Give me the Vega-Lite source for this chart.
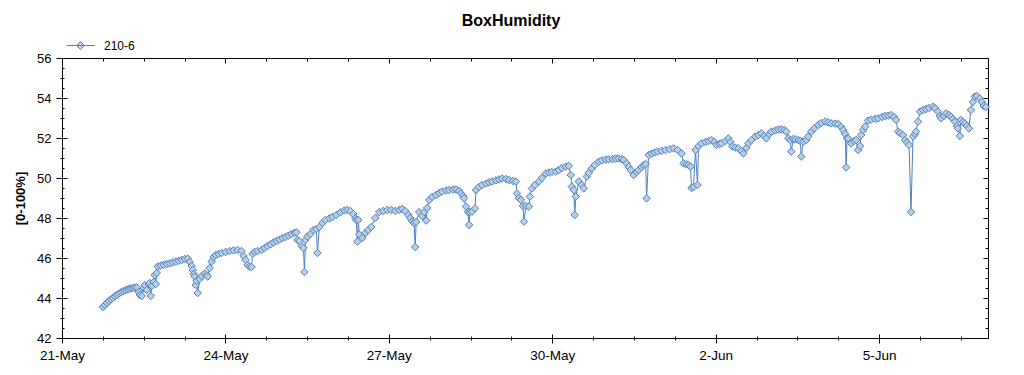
{
"$schema": "https://vega.github.io/schema/vega-lite/v6.json",
"width": 926, "height": 280,
"autosize": "none",
"padding": {"left": 62, "top": 58, "right": 36, "bottom": 37},
"background": "white",
"title": {"text": "BoxHumidity", "anchor": "middle", "frame": "group", "baseline": "alphabetic", "offset": -11, "dx": -14, "font": "Liberation Sans", "fontSize": 16, "fontWeight": "bold", "color": "#000000"},
"config": {"view": {"stroke": null}, "axis": {"domainColor": "#000000", "tickColor": "#000000", "labelColor": "#000000", "titleColor": "#000000", "labelFont": "Liberation Sans", "titleFont": "Liberation Sans", "grid": false, "domainWidth": 1, "tickWidth": 1}},
"datasets": {"rh": [
{"t":"2023-05-21T18:01","h":43.55},{"t":"2023-05-21T18:54","h":43.65},{"t":"2023-05-21T19:47","h":43.75},{"t":"2023-05-21T20:40","h":43.85},{"t":"2023-05-21T21:32","h":43.93},{"t":"2023-05-21T22:25","h":44.0},{"t":"2023-05-21T23:18","h":44.08},{"t":"2023-05-22T00:11","h":44.15},{"t":"2023-05-22T01:03","h":44.22},{"t":"2023-05-22T01:56","h":44.28},{"t":"2023-05-22T02:49","h":44.33},{"t":"2023-05-22T03:42","h":44.38},{"t":"2023-05-22T04:34","h":44.42},{"t":"2023-05-22T05:27","h":44.45},{"t":"2023-05-22T06:20","h":44.48},{"t":"2023-05-22T07:13","h":44.5},{"t":"2023-05-22T08:05","h":44.52},{"t":"2023-05-22T08:58","h":44.53},{"t":"2023-05-22T09:51","h":44.3},{"t":"2023-05-22T10:17","h":44.15},{"t":"2023-05-22T11:10","h":44.1},{"t":"2023-05-22T12:03","h":44.5},{"t":"2023-05-22T12:29","h":44.65},{"t":"2023-05-22T13:22","h":44.4},{"t":"2023-05-22T14:15","h":44.7},{"t":"2023-05-22T14:41","h":44.75},{"t":"2023-05-22T15:07","h":44.1},{"t":"2023-05-22T15:34","h":44.6},{"t":"2023-05-22T16:26","h":44.8},{"t":"2023-05-22T16:53","h":45.15},{"t":"2023-05-22T17:19","h":44.7},{"t":"2023-05-22T17:46","h":45.25},{"t":"2023-05-22T18:12","h":45.57},{"t":"2023-05-22T19:31","h":45.62},{"t":"2023-05-22T20:50","h":45.66},{"t":"2023-05-22T22:09","h":45.7},{"t":"2023-05-22T23:28","h":45.73},
{"t":"2023-05-23T00:47","h":45.78},{"t":"2023-05-23T02:07","h":45.82},{"t":"2023-05-23T03:26","h":45.86},{"t":"2023-05-23T04:45","h":45.9},{"t":"2023-05-23T06:04","h":45.95},{"t":"2023-05-23T07:23","h":45.97},{"t":"2023-05-23T08:16","h":45.8},{"t":"2023-05-23T09:09","h":45.6},{"t":"2023-05-23T09:35","h":45.4},{"t":"2023-05-23T10:01","h":45.2},{"t":"2023-05-23T10:28","h":45.07},{"t":"2023-05-23T10:54","h":44.65},{"t":"2023-05-23T11:20","h":44.85},{"t":"2023-05-23T11:47","h":44.25},{"t":"2023-05-23T12:40","h":44.95},{"t":"2023-05-23T13:32","h":45.1},{"t":"2023-05-23T14:51","h":45.23},{"t":"2023-05-23T15:44","h":45.15},{"t":"2023-05-23T16:11","h":45.07},{"t":"2023-05-23T17:03","h":45.5},{"t":"2023-05-23T17:56","h":45.82},{"t":"2023-05-23T18:49","h":46.05},{"t":"2023-05-23T19:42","h":46.15},{"t":"2023-05-23T21:01","h":46.2},{"t":"2023-05-23T22:20","h":46.25},
{"t":"2023-05-24T00:05","h":46.3},{"t":"2023-05-24T01:51","h":46.35},{"t":"2023-05-24T03:36","h":46.38},{"t":"2023-05-24T05:22","h":46.4},{"t":"2023-05-24T07:07","h":46.35},{"t":"2023-05-24T08:00","h":46.1},{"t":"2023-05-24T08:53","h":45.9},{"t":"2023-05-24T09:46","h":45.65},{"t":"2023-05-24T10:38","h":45.57},{"t":"2023-05-24T11:31","h":45.55},{"t":"2023-05-24T11:57","h":46.2},{"t":"2023-05-24T12:50","h":46.3},{"t":"2023-05-24T14:09","h":46.35},{"t":"2023-05-24T15:55","h":46.4},{"t":"2023-05-24T17:14","h":46.5},{"t":"2023-05-24T18:33","h":46.6},{"t":"2023-05-24T19:52","h":46.68},{"t":"2023-05-24T21:11","h":46.78},{"t":"2023-05-24T22:30","h":46.85},{"t":"2023-05-24T23:50","h":46.92},
{"t":"2023-05-25T01:09","h":47.0},{"t":"2023-05-25T02:28","h":47.05},{"t":"2023-05-25T03:47","h":47.12},{"t":"2023-05-25T05:06","h":47.2},{"t":"2023-05-25T06:25","h":47.25},{"t":"2023-05-25T07:18","h":47.28},{"t":"2023-05-25T07:44","h":46.9},{"t":"2023-05-25T08:37","h":46.85},{"t":"2023-05-25T09:30","h":46.6},{"t":"2023-05-25T10:23","h":46.5},{"t":"2023-05-25T10:49","h":45.3},{"t":"2023-05-25T11:15","h":46.9},{"t":"2023-05-25T12:08","h":47.07},{"t":"2023-05-25T13:27","h":47.2},{"t":"2023-05-25T14:46","h":47.4},{"t":"2023-05-25T16:05","h":47.45},{"t":"2023-05-25T16:32","h":46.25},{"t":"2023-05-25T17:25","h":47.55},{"t":"2023-05-25T18:44","h":47.75},{"t":"2023-05-25T20:03","h":47.9},{"t":"2023-05-25T21:48","h":47.98},{"t":"2023-05-25T23:07","h":48.05},
{"t":"2023-05-26T00:53","h":48.15},{"t":"2023-05-26T02:38","h":48.28},{"t":"2023-05-26T04:24","h":48.38},{"t":"2023-05-26T05:43","h":48.4},{"t":"2023-05-26T07:02","h":48.35},{"t":"2023-05-26T08:21","h":48.2},{"t":"2023-05-26T09:14","h":48.0},{"t":"2023-05-26T09:40","h":47.9},{"t":"2023-05-26T10:07","h":46.82},{"t":"2023-05-26T10:33","h":47.9},{"t":"2023-05-26T10:59","h":47.17},{"t":"2023-05-26T12:19","h":47.0},{"t":"2023-05-26T13:38","h":47.25},{"t":"2023-05-26T14:57","h":47.4},{"t":"2023-05-26T16:16","h":47.55},{"t":"2023-05-26T18:01","h":48.0},{"t":"2023-05-26T19:47","h":48.3},{"t":"2023-05-26T21:32","h":48.35},{"t":"2023-05-26T23:18","h":48.4},
{"t":"2023-05-27T01:03","h":48.4},{"t":"2023-05-27T02:49","h":48.35},{"t":"2023-05-27T04:34","h":48.4},{"t":"2023-05-27T05:53","h":48.45},{"t":"2023-05-27T07:13","h":48.35},{"t":"2023-05-27T08:32","h":48.15},{"t":"2023-05-27T09:25","h":48.0},{"t":"2023-05-27T10:17","h":47.83},{"t":"2023-05-27T11:10","h":47.75},{"t":"2023-05-27T11:36","h":46.55},{"t":"2023-05-27T12:03","h":47.8},{"t":"2023-05-27T13:22","h":48.3},{"t":"2023-05-27T14:41","h":48.1},{"t":"2023-05-27T15:34","h":48.3},{"t":"2023-05-27T16:27","h":47.87},{"t":"2023-05-27T16:53","h":48.5},{"t":"2023-05-27T17:46","h":48.9},{"t":"2023-05-27T19:05","h":49.05},{"t":"2023-05-27T20:50","h":49.15},{"t":"2023-05-27T22:09","h":49.25},{"t":"2023-05-27T23:28","h":49.32},
{"t":"2023-05-28T01:14","h":49.38},{"t":"2023-05-28T02:33","h":49.4},{"t":"2023-05-28T04:19","h":49.42},{"t":"2023-05-28T05:38","h":49.43},{"t":"2023-05-28T06:57","h":49.35},{"t":"2023-05-28T07:50","h":49.23},{"t":"2023-05-28T08:42","h":49.1},{"t":"2023-05-28T09:09","h":48.98},{"t":"2023-05-28T10:01","h":48.57},{"t":"2023-05-28T10:54","h":48.3},{"t":"2023-05-28T11:21","h":47.65},{"t":"2023-05-28T11:47","h":48.3},{"t":"2023-05-28T12:40","h":48.32},{"t":"2023-05-28T13:59","h":48.48},{"t":"2023-05-28T14:25","h":49.4},{"t":"2023-05-28T15:44","h":49.55},{"t":"2023-05-28T17:03","h":49.65},{"t":"2023-05-28T18:49","h":49.72},{"t":"2023-05-28T20:08","h":49.78},{"t":"2023-05-28T21:27","h":49.82},{"t":"2023-05-28T23:13","h":49.88},
{"t":"2023-05-29T00:32","h":49.93},{"t":"2023-05-29T01:51","h":49.98},{"t":"2023-05-29T03:36","h":49.95},{"t":"2023-05-29T04:56","h":49.9},{"t":"2023-05-29T06:41","h":49.85},{"t":"2023-05-29T08:00","h":49.82},{"t":"2023-05-29T08:27","h":49.23},{"t":"2023-05-29T09:19","h":49.0},{"t":"2023-05-29T10:12","h":48.9},{"t":"2023-05-29T11:05","h":48.6},{"t":"2023-05-29T11:31","h":47.82},{"t":"2023-05-29T12:24","h":48.6},{"t":"2023-05-29T13:43","h":48.57},{"t":"2023-05-29T14:09","h":49.07},{"t":"2023-05-29T15:02","h":49.48},{"t":"2023-05-29T16:21","h":49.65},{"t":"2023-05-29T18:07","h":49.82},{"t":"2023-05-29T19:26","h":50.0},{"t":"2023-05-29T21:11","h":50.23},{"t":"2023-05-29T22:31","h":50.27},{"t":"2023-05-29T23:50","h":50.3},
{"t":"2023-05-30T01:35","h":50.32},{"t":"2023-05-30T02:54","h":50.4},{"t":"2023-05-30T04:13","h":50.5},{"t":"2023-05-30T05:59","h":50.57},{"t":"2023-05-30T07:18","h":50.6},{"t":"2023-05-30T08:11","h":50.15},{"t":"2023-05-30T08:37","h":49.57},{"t":"2023-05-30T09:30","h":49.4},{"t":"2023-05-30T09:56","h":48.15},{"t":"2023-05-30T10:23","h":49.07},{"t":"2023-05-30T11:42","h":49.82},{"t":"2023-05-30T13:01","h":49.65},{"t":"2023-05-30T13:54","h":49.48},{"t":"2023-05-30T15:13","h":50.07},{"t":"2023-05-30T16:05","h":50.25},{"t":"2023-05-30T17:25","h":50.48},{"t":"2023-05-30T18:44","h":50.65},{"t":"2023-05-30T20:29","h":50.82},{"t":"2023-05-30T21:48","h":50.88},{"t":"2023-05-30T23:34","h":50.92},
{"t":"2023-05-31T00:53","h":50.93},{"t":"2023-05-31T02:38","h":50.95},{"t":"2023-05-31T03:58","h":50.97},{"t":"2023-05-31T05:17","h":50.98},{"t":"2023-05-31T06:36","h":50.95},{"t":"2023-05-31T07:29","h":50.9},{"t":"2023-05-31T08:48","h":50.73},{"t":"2023-05-31T09:40","h":50.55},{"t":"2023-05-31T10:33","h":50.4},{"t":"2023-05-31T11:52","h":50.15},{"t":"2023-05-31T13:11","h":50.3},{"t":"2023-05-31T14:04","h":50.4},{"t":"2023-05-31T15:23","h":50.55},{"t":"2023-05-31T16:16","h":50.65},{"t":"2023-05-31T17:09","h":50.7},{"t":"2023-05-31T17:35","h":48.98},{"t":"2023-05-31T18:28","h":51.15},{"t":"2023-05-31T19:47","h":51.22},{"t":"2023-05-31T21:06","h":51.28},{"t":"2023-05-31T22:25","h":51.32},
{"t":"2023-06-01T00:11","h":51.36},{"t":"2023-06-01T01:56","h":51.4},{"t":"2023-06-01T03:42","h":51.44},{"t":"2023-06-01T05:27","h":51.48},{"t":"2023-06-01T07:13","h":51.4},{"t":"2023-06-01T08:58","h":51.23},{"t":"2023-06-01T09:51","h":50.73},{"t":"2023-06-01T11:10","h":50.68},{"t":"2023-06-01T12:03","h":50.65},{"t":"2023-06-01T12:56","h":50.57},{"t":"2023-06-01T13:22","h":49.5},{"t":"2023-06-01T14:15","h":49.55},{"t":"2023-06-01T15:07","h":51.4},{"t":"2023-06-01T16:00","h":49.65},{"t":"2023-06-01T16:27","h":51.6},{"t":"2023-06-01T17:46","h":51.73},{"t":"2023-06-01T19:31","h":51.8},{"t":"2023-06-01T20:50","h":51.85},{"t":"2023-06-01T22:09","h":51.9},{"t":"2023-06-01T23:29","h":51.8},
{"t":"2023-06-02T00:21","h":51.65},{"t":"2023-06-02T01:40","h":51.7},{"t":"2023-06-02T02:33","h":51.73},{"t":"2023-06-02T04:19","h":51.85},{"t":"2023-06-02T05:38","h":51.98},{"t":"2023-06-02T06:31","h":51.8},{"t":"2023-06-02T07:23","h":51.57},{"t":"2023-06-02T08:42","h":51.52},{"t":"2023-06-02T10:02","h":51.48},{"t":"2023-06-02T11:21","h":51.35},{"t":"2023-06-02T12:13","h":51.23},{"t":"2023-06-02T13:33","h":51.5},{"t":"2023-06-02T14:25","h":51.73},{"t":"2023-06-02T15:44","h":51.9},{"t":"2023-06-02T17:30","h":52.07},{"t":"2023-06-02T18:49","h":52.15},{"t":"2023-06-02T20:08","h":52.23},{"t":"2023-06-02T21:27","h":52.1},{"t":"2023-06-02T22:20","h":51.98},{"t":"2023-06-02T23:39","h":52.2},
{"t":"2023-06-03T00:32","h":52.32},{"t":"2023-06-03T02:17","h":52.38},{"t":"2023-06-03T03:37","h":52.42},{"t":"2023-06-03T04:56","h":52.43},{"t":"2023-06-03T06:15","h":52.4},{"t":"2023-06-03T07:08","h":52.32},{"t":"2023-06-03T08:00","h":51.98},{"t":"2023-06-03T08:53","h":51.9},{"t":"2023-06-03T09:19","h":51.32},{"t":"2023-06-03T10:12","h":51.95},{"t":"2023-06-03T11:05","h":51.93},{"t":"2023-06-03T12:24","h":51.9},{"t":"2023-06-03T13:17","h":51.85},{"t":"2023-06-03T13:43","h":51.07},{"t":"2023-06-03T14:36","h":51.82},{"t":"2023-06-03T15:55","h":51.9},{"t":"2023-06-03T16:48","h":52.07},{"t":"2023-06-03T18:07","h":52.32},{"t":"2023-06-03T19:26","h":52.48},{"t":"2023-06-03T21:12","h":52.65},{"t":"2023-06-03T22:31","h":52.75},
{"t":"2023-06-04T00:16","h":52.82},{"t":"2023-06-04T01:35","h":52.78},{"t":"2023-06-04T02:54","h":52.73},{"t":"2023-06-04T04:40","h":52.72},{"t":"2023-06-04T05:59","h":52.7},{"t":"2023-06-04T07:18","h":52.55},{"t":"2023-06-04T08:11","h":52.4},{"t":"2023-06-04T09:04","h":52.2},{"t":"2023-06-04T09:30","h":50.53},{"t":"2023-06-04T09:56","h":52.0},{"t":"2023-06-04T10:23","h":51.98},{"t":"2023-06-04T11:42","h":51.73},{"t":"2023-06-04T13:01","h":51.85},{"t":"2023-06-04T13:54","h":51.9},{"t":"2023-06-04T14:46","h":51.4},{"t":"2023-06-04T15:39","h":51.6},{"t":"2023-06-04T16:06","h":52.15},{"t":"2023-06-04T16:58","h":52.4},{"t":"2023-06-04T17:51","h":52.57},{"t":"2023-06-04T19:10","h":52.87},{"t":"2023-06-04T20:29","h":52.92},{"t":"2023-06-04T22:15","h":52.96},{"t":"2023-06-04T23:34","h":52.98},
{"t":"2023-06-05T01:19","h":53.05},{"t":"2023-06-05T02:39","h":53.1},{"t":"2023-06-05T03:58","h":53.12},{"t":"2023-06-05T05:17","h":53.15},{"t":"2023-06-05T06:36","h":53.05},{"t":"2023-06-05T07:29","h":52.9},{"t":"2023-06-05T08:21","h":52.32},{"t":"2023-06-05T09:14","h":52.25},{"t":"2023-06-05T10:33","h":52.15},{"t":"2023-06-05T11:26","h":51.9},{"t":"2023-06-05T12:19","h":51.77},{"t":"2023-06-05T13:12","h":51.65},{"t":"2023-06-05T14:04","h":48.3},{"t":"2023-06-05T14:57","h":52.07},{"t":"2023-06-05T15:50","h":52.2},{"t":"2023-06-05T16:16","h":52.32},{"t":"2023-06-05T17:09","h":52.82},{"t":"2023-06-05T18:02","h":53.32},{"t":"2023-06-05T19:21","h":53.4},{"t":"2023-06-05T20:40","h":53.45},{"t":"2023-06-05T21:59","h":53.5},{"t":"2023-06-05T23:45","h":53.57},
{"t":"2023-06-06T00:37","h":53.5},{"t":"2023-06-06T01:56","h":53.32},{"t":"2023-06-06T02:49","h":53.1},{"t":"2023-06-06T03:16","h":52.98},{"t":"2023-06-06T04:35","h":53.1},{"t":"2023-06-06T05:27","h":53.23},{"t":"2023-06-06T06:47","h":53.15},{"t":"2023-06-06T07:39","h":53.07},{"t":"2023-06-06T08:32","h":52.95},{"t":"2023-06-06T09:25","h":52.82},{"t":"2023-06-06T10:17","h":52.6},{"t":"2023-06-06T10:44","h":52.48},{"t":"2023-06-06T11:37","h":52.1},{"t":"2023-06-06T12:03","h":52.9},{"t":"2023-06-06T12:56","h":52.8},{"t":"2023-06-06T13:49","h":52.73},{"t":"2023-06-06T14:41","h":52.6},{"t":"2023-06-06T15:34","h":52.48},{"t":"2023-06-06T16:27","h":53.4},{"t":"2023-06-06T17:20","h":53.8},{"t":"2023-06-06T18:12","h":54.07},{"t":"2023-06-06T19:05","h":54.1},{"t":"2023-06-06T20:24","h":53.98},{"t":"2023-06-06T21:17","h":53.8},{"t":"2023-06-06T22:10","h":53.6},{"t":"2023-06-06T23:02","h":53.55}
]},
"data": {"name": "rh"},
"layer": [
{"mark": {"type": "line", "strokeWidth": 1, "interpolate": "linear"},
 "encoding": {
  "x": {"field": "t", "type": "temporal",
   "scale": {"domain": [{"year":2023,"month":5,"date":21},{"year":2023,"month":6,"date":7}], "nice": false},
   "axis": {"orient": "bottom", "title": null, "format": "%-d-%b", "labelFlush": false, "labelOverlap": false, "labelFontSize": 13.5, "labelPadding": 5, "domain": true,
    "values": [{"year":2023,"month":5,"date":21,"hours":0},{"year":2023,"month":5,"date":21,"hours":18},{"year":2023,"month":5,"date":22,"hours":12},{"year":2023,"month":5,"date":23,"hours":6},{"year":2023,"month":5,"date":24,"hours":0},{"year":2023,"month":5,"date":24,"hours":18},{"year":2023,"month":5,"date":25,"hours":12},{"year":2023,"month":5,"date":26,"hours":6},{"year":2023,"month":5,"date":27,"hours":0},{"year":2023,"month":5,"date":27,"hours":18},{"year":2023,"month":5,"date":28,"hours":12},{"year":2023,"month":5,"date":29,"hours":6},{"year":2023,"month":5,"date":30,"hours":0},{"year":2023,"month":5,"date":30,"hours":18},{"year":2023,"month":5,"date":31,"hours":12},{"year":2023,"month":6,"date":1,"hours":6},{"year":2023,"month":6,"date":2,"hours":0},{"year":2023,"month":6,"date":2,"hours":18},{"year":2023,"month":6,"date":3,"hours":12},{"year":2023,"month":6,"date":4,"hours":6},{"year":2023,"month":6,"date":5,"hours":0},{"year":2023,"month":6,"date":5,"hours":18},{"year":2023,"month":6,"date":6,"hours":12}],
    "labelExpr": "(time(datum.value) - time(datetime(2023,4,21))) % 259200000 == 0 ? datum.label : ''",
    "tickSize": {"condition": {"test": "(time(datum.value) - time(datetime(2023,4,21))) % 259200000 == 0", "value": 5}, "value": 2}}},
  "y": {"field": "h", "type": "quantitative",
   "scale": {"domain": [42, 56], "nice": false, "zero": false},
   "axis": {"orient": "left", "title": "[0-100%]", "titleFontSize": 13, "titleFontWeight": "bold", "titlePadding": 9, "labelFontSize": 13, "labelPadding": 5, "labelFlush": false, "labelOverlap": false, "format": "d", "domain": true,
    "values": [42,42.5,43,43.5,44,44.5,45,45.5,46,46.5,47,47.5,48,48.5,49,49.5,50,50.5,51,51.5,52,52.5,53,53.5,54,54.5,55,55.5,56],
    "labelExpr": "datum.value % 2 == 0 ? datum.label : ''",
    "tickSize": {"condition": {"test": "datum.value % 2 == 0", "value": 6}, "value": 2}}},
  "color": {"datum": "210-6", "type": "nominal", "scale": {"range": ["#4f81bd"]},
   "legend": {"orient": "none", "legendX": 4, "legendY": -27, "title": null, "padding": 0, "symbolType": "M-1,0L1,0M-0.29,0L0,-0.29L0.29,0L0,0.29Z", "symbolSize": 784, "symbolStrokeWidth": 1, "labelFont": "Liberation Sans", "labelFontSize": 12, "labelColor": "#000000", "labelOffset": 9,
    "encode": {"symbols": {"update": {"fill": {"value": "#b9cde5"}, "stroke": {"value": "#4f81bd"}, "strokeWidth": {"value": 1}, "opacity": {"value": 1}}}}}}
 }},
{"mark": {"type": "point", "shape": "diamond", "size": 56, "filled": true, "fill": "#b9cde5", "stroke": "#4f81bd", "strokeWidth": 1, "opacity": 1},
 "encoding": {
  "x": {"field": "t", "type": "temporal",
   "scale": {"domain": [{"year":2023,"month":5,"date":21},{"year":2023,"month":6,"date":7}], "nice": false},
   "axis": {"orient": "top", "offset": -280, "title": null, "labels": false, "domain": false,
    "values": [{"year":2023,"month":5,"date":21,"hours":0},{"year":2023,"month":5,"date":21,"hours":18},{"year":2023,"month":5,"date":22,"hours":12},{"year":2023,"month":5,"date":23,"hours":6},{"year":2023,"month":5,"date":24,"hours":0},{"year":2023,"month":5,"date":24,"hours":18},{"year":2023,"month":5,"date":25,"hours":12},{"year":2023,"month":5,"date":26,"hours":6},{"year":2023,"month":5,"date":27,"hours":0},{"year":2023,"month":5,"date":27,"hours":18},{"year":2023,"month":5,"date":28,"hours":12},{"year":2023,"month":5,"date":29,"hours":6},{"year":2023,"month":5,"date":30,"hours":0},{"year":2023,"month":5,"date":30,"hours":18},{"year":2023,"month":5,"date":31,"hours":12},{"year":2023,"month":6,"date":1,"hours":6},{"year":2023,"month":6,"date":2,"hours":0},{"year":2023,"month":6,"date":2,"hours":18},{"year":2023,"month":6,"date":3,"hours":12},{"year":2023,"month":6,"date":4,"hours":6},{"year":2023,"month":6,"date":5,"hours":0},{"year":2023,"month":6,"date":5,"hours":18},{"year":2023,"month":6,"date":6,"hours":12}],
    "tickSize": {"condition": {"test": "(time(datum.value) - time(datetime(2023,4,21))) % 259200000 == 0", "value": 4}, "value": 2}}},
  "y": {"field": "h", "type": "quantitative",
   "scale": {"domain": [42, 56], "nice": false, "zero": false},
   "axis": {"orient": "right", "offset": -926, "title": null, "labels": false, "domain": false,
    "values": [42,42.5,43,43.5,44,44.5,45,45.5,46,46.5,47,47.5,48,48.5,49,49.5,50,50.5,51,51.5,52,52.5,53,53.5,54,54.5,55,55.5,56],
    "tickSize": {"condition": {"test": "datum.value % 2 == 0", "value": 5}, "value": 2}}}
 }},
{"mark": {"type": "point", "opacity": 0},
 "encoding": {
  "x": {"field": "t", "type": "temporal",
   "scale": {"domain": [{"year":2023,"month":5,"date":21},{"year":2023,"month":6,"date":7}], "nice": false},
   "axis": {"orient": "bottom", "offset": -280, "title": null, "labels": false, "domain": true,
    "values": [{"year":2023,"month":5,"date":21,"hours":0},{"year":2023,"month":5,"date":21,"hours":18},{"year":2023,"month":5,"date":22,"hours":12},{"year":2023,"month":5,"date":23,"hours":6},{"year":2023,"month":5,"date":24,"hours":0},{"year":2023,"month":5,"date":24,"hours":18},{"year":2023,"month":5,"date":25,"hours":12},{"year":2023,"month":5,"date":26,"hours":6},{"year":2023,"month":5,"date":27,"hours":0},{"year":2023,"month":5,"date":27,"hours":18},{"year":2023,"month":5,"date":28,"hours":12},{"year":2023,"month":5,"date":29,"hours":6},{"year":2023,"month":5,"date":30,"hours":0},{"year":2023,"month":5,"date":30,"hours":18},{"year":2023,"month":5,"date":31,"hours":12},{"year":2023,"month":6,"date":1,"hours":6},{"year":2023,"month":6,"date":2,"hours":0},{"year":2023,"month":6,"date":2,"hours":18},{"year":2023,"month":6,"date":3,"hours":12},{"year":2023,"month":6,"date":4,"hours":6},{"year":2023,"month":6,"date":5,"hours":0},{"year":2023,"month":6,"date":5,"hours":18},{"year":2023,"month":6,"date":6,"hours":12}],
    "tickSize": {"condition": {"test": "(time(datum.value) - time(datetime(2023,4,21))) % 259200000 == 0", "value": 5}, "value": 3}}},
  "y": {"field": "h", "type": "quantitative",
   "scale": {"domain": [42, 56], "nice": false, "zero": false},
   "axis": {"orient": "left", "offset": -926, "title": null, "labels": false, "domain": true,
    "values": [42,42.5,43,43.5,44,44.5,45,45.5,46,46.5,47,47.5,48,48.5,49,49.5,50,50.5,51,51.5,52,52.5,53,53.5,54,54.5,55,55.5,56],
    "tickSize": {"condition": {"test": "datum.value % 2 == 0", "value": 5}, "value": 3}}}
 }}
],
"resolve": {"axis": {"x": "independent", "y": "independent"}}
}
